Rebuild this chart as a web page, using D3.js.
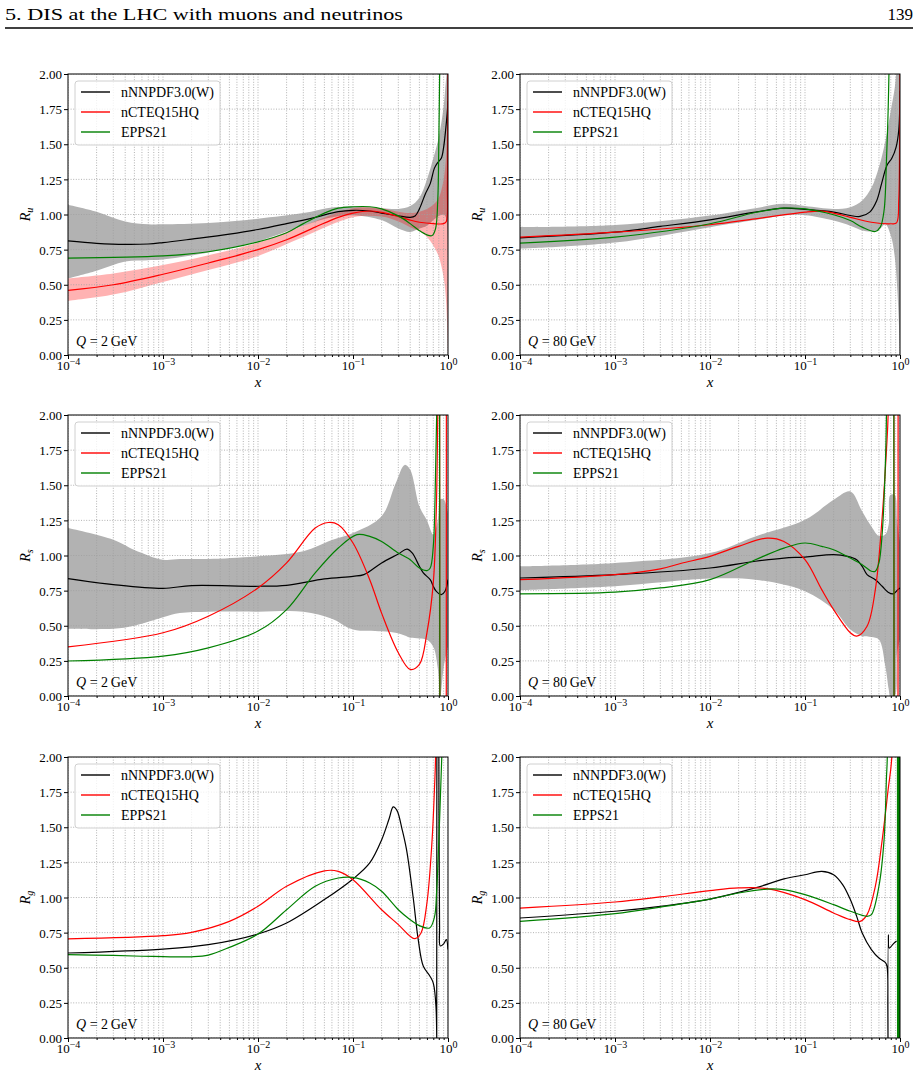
<!DOCTYPE html>
<html>
<head>
<meta charset="utf-8">
<script src="https://cdn.jsdelivr.net/npm/d3@7"></script>
<style>
body { margin: 0; background: #fff; }
svg { font-family: "Liberation Serif", "DejaVu Serif", serif; }
</style>
</head>
<body>
<svg id="fig" width="920" height="1077"></svg>
<script>
// legend + axis setup
var seriesNames = ["nNNPDF3.0(W)", "nCTEQ15HQ", "EPPS21"];
var seriesColors = ["black", "red", "green"];
var xMajor = [1e-4, 1e-3, 1e-2, 1e-1, 1];
var xExponents = ["\u22124", "\u22123", "\u22122", "\u22121", "0"];
var yTickVals = [0, 0.25, 0.5, 0.75, 1, 1.25, 1.5, 1.75, 2];

// ---- R_u, Q = 2 GeV ----
var uQ2_nnpdf = [[1e-4,0.812],[2e-4,0.795],[4e-4,0.787],[7e-4,0.79],[1e-3,0.8],[2e-3,0.825],[5e-3,0.86],[1e-2,0.893],[2e-2,0.935],[4e-2,0.98],[7e-2,1.02],[0.1,1.03],[0.15,1.025],[0.2,1.01],[0.3,0.99],[0.4,0.98],[0.45,0.99],[0.5,1.04],[0.58,1.15],[0.65,1.22],[0.72,1.33],[0.78,1.37],[0.85,1.4],[0.9,1.48],[0.95,1.62],[0.98,1.72],[1.0,1.81]];
var uQ2_nnpdfBand = [[1e-4,0.545,1.07],[2e-4,0.6,1.02],[4e-4,0.665,0.95],[7e-4,0.675,0.93],[1e-3,0.68,0.93],[3e-3,0.73,0.94],[1e-2,0.81,0.97],[3e-2,0.92,1.01],[6e-2,0.98,1.05],[0.1,0.995,1.055],[0.2,0.96,1.045],[0.3,0.9,1.04],[0.4,0.875,1.06],[0.5,0.9,1.12],[0.6,0.92,1.25],[0.7,0.96,1.4],[0.8,0.99,1.55],[0.9,1.0,1.77],[0.95,0.98,1.95],[1.0,0.6,2.1]];
var uQ2_ncteq = [[1e-4,0.46],[3e-4,0.5],[1e-3,0.575],[3e-3,0.655],[1e-2,0.75],[2e-2,0.82],[4e-2,0.91],[7e-2,0.98],[0.1,1.01],[0.15,1.025],[0.2,1.015],[0.3,0.985],[0.4,0.96],[0.5,0.945],[0.7,0.935],[0.9,0.935],[0.96,0.95],[0.985,1.2],[0.995,1.7],[1.0,2.1]];
var uQ2_ncteqBand = [[1e-4,0.385,0.545],[3e-4,0.43,0.58],[1e-3,0.52,0.64],[3e-3,0.605,0.71],[1e-2,0.705,0.8],[3e-2,0.84,0.92],[0.1,0.98,1.045],[0.2,0.985,1.045],[0.3,0.95,1.02],[0.4,0.91,1.01],[0.5,0.88,1.02],[0.6,0.84,1.04],[0.7,0.78,1.07],[0.8,0.7,1.12],[0.9,0.55,1.25],[0.95,0.4,1.4],[0.98,0.2,1.7],[1.0,0,2.1]];
var uQ2_epps = [[1e-4,0.689],[1e-3,0.705],[3e-3,0.735],[1e-2,0.805],[2e-2,0.87],[3e-2,0.935],[5e-2,1.01],[7e-2,1.045],[0.1,1.055],[0.15,1.055],[0.2,1.04],[0.3,0.99],[0.4,0.935],[0.5,0.885],[0.6,0.855],[0.68,0.85],[0.74,0.9],[0.78,1.1],[0.8,1.5],[0.82,2.1]];

// ---- R_u, Q = 80 GeV ----
var uQ80_nnpdf = [[1e-4,0.834],[1e-3,0.874],[3e-3,0.915],[1e-2,0.962],[3e-2,1.017],[6e-2,1.045],[0.1,1.036],[0.2,1.017],[0.3,0.993],[0.38,0.986],[0.48,1.017],[0.57,1.1],[0.64,1.22],[0.73,1.35],[0.82,1.4],[0.91,1.48],[0.97,1.6],[1.0,1.88]];
var uQ80_nnpdfBand = [[1e-4,0.756,0.91],[1e-3,0.8,0.925],[1e-2,0.91,0.993],[3e-2,0.96,1.045],[6e-2,0.993,1.076],[0.1,0.995,1.06],[0.2,0.957,1.04],[0.3,0.92,1.052],[0.4,0.886,1.1],[0.5,0.88,1.19],[0.6,0.89,1.336],[0.7,0.93,1.52],[0.8,0.85,1.74],[0.88,0.7,1.9],[0.93,0.5,2.05],[0.97,0.25,2.1],[1.0,0,2.1]];
var uQ80_ncteq = [[1e-4,0.839],[1e-3,0.874],[1e-2,0.927],[3e-2,0.969],[0.1,1.017],[0.15,1.024],[0.2,1.01],[0.3,0.98],[0.5,0.945],[0.8,0.934],[0.92,0.94],[0.97,1.1],[0.99,1.5],[1.0,2.1]];
var uQ80_epps = [[1e-4,0.796],[1e-3,0.839],[1e-2,0.934],[3e-2,1.014],[6e-2,1.045],[0.1,1.04],[0.2,0.998],[0.3,0.957],[0.4,0.91],[0.55,0.879],[0.62,0.91],[0.68,1.03],[0.72,1.38],[0.75,1.74],[0.77,2.1]];

// ---- R_s, Q = 2 GeV ----
var sQ2_nnpdf = [[1e-4,0.836],[3e-4,0.793],[1e-3,0.766],[2e-3,0.786],[1e-2,0.781],[2e-2,0.788],[5e-2,0.833],[0.1,0.852],[0.13,0.864],[0.2,0.947],[0.3,1.011],[0.37,1.046],[0.42,1.018],[0.5,0.923],[0.55,0.876],[0.65,0.828],[0.7,0.781],[0.75,0.746],[0.85,0.722],[0.93,0.746],[1.0,0.828]];
var sQ2_nnpdfBand = [[1e-4,0.478,1.195],[3e-4,0.478,1.112],[5e-4,0.5,1.04],[1e-3,0.56,0.97],[1.5e-3,0.59,0.975],[3e-3,0.6,0.975],[1e-2,0.6,0.994],[3e-2,0.6,1.03],[6e-2,0.55,1.11],[0.1,0.473,1.16],[0.2,0.46,1.28],[0.28,0.45,1.51],[0.35,0.43,1.645],[0.4,0.414,1.61],[0.5,0.41,1.35],[0.6,0.4,1.25],[0.7,0.35,1.15],[0.78,0.2,1.25],[0.83,0.0,1.4],[0.9,0.2,1.4],[1.0,0.35,1.3]];
var sQ2_ncteq = [[1e-4,0.35],[1e-3,0.45],[3e-3,0.568],[1e-2,0.769],[2e-2,0.947],[4e-2,1.195],[5.5e-2,1.235],[7e-2,1.219],[0.1,1.089],[0.15,0.828],[0.2,0.59],[0.3,0.308],[0.4,0.189],[0.5,0.225],[0.6,0.45],[0.7,0.805],[0.75,1.28],[0.78,2.0],[0.79,3.0],[0.8,null],[0.815,3],[0.82,-1],[0.9,null],[0.958,-1],[0.962,3]];
var sQ2_epps = [[1e-4,0.249],[1e-3,0.284],[3e-3,0.343],[1e-2,0.462],[2e-2,0.615],[4e-2,0.876],[7e-2,1.053],[0.11,1.148],[0.15,1.136],[0.2,1.1],[0.3,1.018],[0.4,0.97],[0.5,0.911],[0.6,0.892],[0.65,0.911],[0.7,1.065],[0.73,1.396],[0.76,2.0],[0.77,3.0],[0.8,null],[0.814,3],[0.824,-1]];

// ---- R_s, Q = 80 GeV ----
var sQ80_nnpdf = [[1e-4,0.84],[1e-3,0.864],[1e-2,0.911],[3e-2,0.959],[6e-2,0.982],[0.1,0.989],[0.2,1.006],[0.28,0.994],[0.35,0.97],[0.4,0.923],[0.45,0.864],[0.55,0.828],[0.65,0.781],[0.75,0.739],[0.85,0.727],[0.95,0.757],[1.0,0.769]];
var sQ80_nnpdfBand = [[1e-4,0.753,0.923],[1e-3,0.781,0.947],[1e-2,0.836,1.018],[3e-2,0.828,1.136],[0.1,0.746,1.254],[0.2,0.615,1.396],[0.3,0.473,1.456],[0.4,0.426,1.314],[0.5,0.42,1.207],[0.6,0.402,1.14],[0.7,0.213,1.15],[0.76,0.05,1.22],[0.79,0.0,1.43],[0.88,0.0,1.43],[0.93,0.3,1.25],[1.0,0.4,1.1]];
var sQ80_ncteq = [[1e-4,0.828],[1e-3,0.864],[3e-3,0.905],[5e-3,0.945],[1e-2,0.994],[2e-2,1.065],[4e-2,1.124],[6e-2,1.1],[0.1,0.97],[0.15,0.757],[0.2,0.615],[0.3,0.45],[0.35,0.426],[0.45,0.497],[0.55,0.757],[0.65,1.278],[0.72,1.751],[0.75,2.0],[0.76,3],[0.8,null],[0.862,3],[0.868,-1],[0.9,null],[0.952,-1],[0.956,3]];
var sQ80_epps = [[1e-4,0.727],[1e-3,0.739],[3e-3,0.769],[1e-2,0.828],[3e-2,0.97],[6e-2,1.053],[0.1,1.089],[0.15,1.065],[0.2,1.041],[0.3,0.982],[0.4,0.935],[0.5,0.888],[0.55,0.888],[0.6,0.947],[0.65,1.16],[0.7,1.633],[0.72,2.0],[0.73,3],[0.8,null],[0.86,3],[0.866,-1]];

// ---- R_g, Q = 2 GeV ----
var gQ2_nnpdf = [[1e-4,0.605],[1e-3,0.633],[3e-3,0.664],[1e-2,0.74],[2e-2,0.818],[5e-2,0.985],[0.1,1.132],[0.15,1.246],[0.2,1.41],[0.24,1.56],[0.265,1.645],[0.29,1.62],[0.33,1.48],[0.366,1.34],[0.43,1.0],[0.486,0.7],[0.55,0.51],[0.646,0.44],[0.7,0.39],[0.747,0.225],[0.757,-0.5],[0.758,null],[0.76,-0.5],[0.764,2.5],[0.78,null],[0.8,2.5],[0.815,0.8],[0.83,0.655],[0.9,0.67],[0.96,0.7],[1.0,0.63]];
var gQ2_ncteq = [[1e-4,0.705],[1e-3,0.728],[2e-3,0.752],[5e-3,0.83],[1e-2,0.937],[2e-2,1.08],[5e-2,1.19],[7e-2,1.186],[0.1,1.127],[0.2,0.913],[0.3,0.807],[0.4,0.724],[0.45,0.707],[0.52,0.747],[0.6,0.961],[0.68,1.41],[0.72,1.77],[0.74,2.0],[0.75,3]];
var gQ2_epps = [[1e-4,0.593],[3e-4,0.588],[6e-4,0.582],[1e-3,0.579],[2e-3,0.578],[3e-3,0.59],[5e-3,0.645],[1e-2,0.74],[2e-2,0.913],[4e-2,1.08],[7e-2,1.139],[0.1,1.143],[0.15,1.103],[0.2,1.044],[0.3,0.913],[0.4,0.842],[0.5,0.8],[0.64,0.783],[0.72,0.86],[0.76,1.05],[0.8,1.4],[0.84,1.8],[0.87,2.1]];

// ---- R_g, Q = 80 GeV ----
var gQ80_nnpdf = [[1e-4,0.854],[1e-3,0.902],[3e-3,0.937],[1e-2,0.989],[3e-2,1.068],[6e-2,1.132],[0.1,1.162],[0.15,1.186],[0.2,1.162],[0.25,1.09],[0.3,0.985],[0.35,0.866],[0.4,0.747],[0.5,0.629],[0.6,0.569],[0.7,0.538],[0.73,0.51],[0.745,0.2],[0.75,-0.5],[0.751,null],[0.752,-0.5],[0.755,0.735],[0.77,0.64],[0.85,0.67],[0.92,0.69]];
var gQ80_ncteq = [[1e-4,0.925],[1e-3,0.968],[3e-3,1.004],[1e-2,1.049],[2e-2,1.068],[4e-2,1.063],[0.1,0.985],[0.2,0.89],[0.3,0.842],[0.38,0.83],[0.45,0.878],[0.55,1.08],[0.65,1.412],[0.75,1.768],[0.82,2.0],[0.83,3]];
var gQ80_epps = [[1e-4,0.83],[1e-3,0.885],[3e-3,0.932],[1e-2,0.989],[2e-2,1.032],[4e-2,1.06],[6e-2,1.056],[0.1,1.02],[0.2,0.949],[0.3,0.902],[0.45,0.866],[0.5,0.878],[0.6,1.08],[0.68,1.412],[0.72,1.85],[0.735,2.0],[0.74,3],[0.9,null],[0.94,3],[0.945,-1],[0.95,3],[0.955,-1],[0.96,3],[0.965,-1],[0.97,3],[0.975,-1],[0.98,3],[0.985,-1],[0.99,3],[0.995,-1],[1.0,3]];

var panels = [
  {col: 0, row: 0, sub: "u", q: "2", bands: [[uQ2_nnpdfBand, "gray"], [uQ2_ncteqBand, "red"]], lines: [uQ2_nnpdf, uQ2_ncteq, uQ2_epps]},
  {col: 1, row: 0, sub: "u", q: "80", bands: [[uQ80_nnpdfBand, "gray"]], lines: [uQ80_nnpdf, uQ80_ncteq, uQ80_epps]},
  {col: 0, row: 1, sub: "s", q: "2", bands: [[sQ2_nnpdfBand, "gray"]], lines: [sQ2_nnpdf, sQ2_ncteq, sQ2_epps]},
  {col: 1, row: 1, sub: "s", q: "80", bands: [[sQ80_nnpdfBand, "gray"]], lines: [sQ80_nnpdf, sQ80_ncteq, sQ80_epps]},
  {col: 0, row: 2, sub: "g", q: "2", bands: [], lines: [gQ2_nnpdf, gQ2_ncteq, gQ2_epps]},
  {col: 1, row: 2, sub: "g", q: "80", bands: [], lines: [gQ80_nnpdf, gQ80_ncteq, gQ80_epps]}
];

var colLeft = [68, 520], rowTop = [74, 415, 757];
var W = 380, H = 281;

var svg = d3.select("#fig");

// page header
svg.append("text").attr("x", 5).attr("y", 20).attr("font-size", 17)
    .attr("textLength", 398).attr("lengthAdjust", "spacingAndGlyphs")
    .text("5. DIS at the LHC with muons and neutrinos");
svg.append("text").attr("x", 913).attr("y", 20).attr("font-size", 17)
    .attr("text-anchor", "end").text("139");
svg.append("line").attr("x1", 5).attr("x2", 913).attr("y1", 28).attr("y2", 28)
    .attr("stroke", "black").attr("stroke-width", 1.3);

panels.forEach(function (p, i) {
    var g = svg.append("g")
        .attr("transform", "translate(" + colLeft[p.col] + "," + rowTop[p.row] + ")");

    var x = d3.scaleLog().domain([1e-4, 1]).range([0, W]);
    var y = d3.scaleLinear().domain([0, 2]).range([H, 0]);

    g.append("clipPath").attr("id", "clip" + i)
        .append("rect").attr("width", W).attr("height", H);

    var plot = g.append("g").attr("clip-path", "url(#clip" + i + ")");

    var area = d3.area()
        .x(function (d) { return x(d[0]); })
        .y0(function (d) { return y(d[1]); })
        .y1(function (d) { return y(d[2]); })
        .curve(d3.curveCatmullRom.alpha(0.5));

    p.bands.forEach(function (b) {
        plot.append("path").attr("d", area(b[0]))
            .attr("fill", b[1] == "gray" ? "#b2b2b2" : "red")
            .attr("fill-opacity", b[1] == "gray" ? 1 : 0.3)
            .attr("stroke", "none");
    });

    // grid (minor + major)
    plot.selectAll("line.gx").data(x.ticks()).enter().append("line")
        .attr("x1", function (d) { return x(d); })
        .attr("x2", function (d) { return x(d); })
        .attr("y1", 0).attr("y2", H)
        .attr("stroke", "#a0a0a0").attr("stroke-width", 0.8)
        .attr("stroke-dasharray", "1,1.6");
    plot.selectAll("line.gy").data(yTickVals).enter().append("line")
        .attr("x1", 0).attr("x2", W)
        .attr("y1", function (d) { return y(d); })
        .attr("y2", function (d) { return y(d); })
        .attr("stroke", "#a0a0a0").attr("stroke-width", 0.8)
        .attr("stroke-dasharray", "1,1.6");

    var line = d3.line()
        .defined(function (d) { return d[1] !== null; })
        .x(function (d) { return x(d[0]); })
        .y(function (d) { return y(d[1]); })
        .curve(d3.curveCatmullRom.alpha(0.5));

    p.lines.forEach(function (l, k) {
        plot.append("path").attr("d", line(l))
            .attr("fill", "none")
            .attr("stroke", seriesColors[k])
            .attr("stroke-width", 1.2);
    });

    // axes
    var minors = x.ticks().filter(function (d) { return xMajor.indexOf(d) < 0; });
    g.append("g").attr("transform", "translate(0," + H + ")")
        .call(d3.axisBottom(x).tickValues(minors).tickSize(2).tickFormat("").tickSizeOuter(0))
        .call(function (a) { a.select(".domain").remove(); });
    var xa = g.append("g").attr("transform", "translate(0," + H + ")")
        .call(d3.axisBottom(x).tickValues(xMajor).tickSize(4).tickFormat("").tickSizeOuter(0));
    xa.select(".domain").remove();
    xa.selectAll(".tick").append("text")
        .attr("y", 15).attr("text-anchor", "middle").attr("fill", "black")
        .attr("font-family", "Liberation Serif").attr("font-size", 13)
        .each(function (d, j) {
            var t = d3.select(this);
            t.append("tspan").text("10");
            t.append("tspan").attr("dy", -5).attr("font-size", 10).text(xExponents[j]);
        });

    var ya = g.append("g")
        .call(d3.axisLeft(y).tickValues(yTickVals).tickSize(4).tickSizeOuter(0)
            .tickFormat(d3.format(".2f")));
    ya.select(".domain").remove();
    ya.selectAll("text").attr("font-family", "Liberation Serif").attr("font-size", 13)
        .attr("fill", "black").attr("dy", "0.36em").attr("x", -6);

    g.append("rect").attr("width", W).attr("height", H)
        .attr("fill", "none").attr("stroke", "black").attr("stroke-width", 1);

    // axis labels
    var yl = g.append("text")
        .attr("transform", "translate(-38," + (H / 2) + ") rotate(-90)")
        .attr("text-anchor", "middle").attr("font-size", 14);
    yl.append("tspan").attr("font-style", "italic").text("R");
    yl.append("tspan").attr("font-style", "italic").attr("font-size", 10).attr("dy", 3).text(p.sub);

    g.append("text").attr("x", W / 2).attr("y", H + 32)
        .attr("text-anchor", "middle").attr("font-size", 15)
        .attr("font-style", "italic").text("x");

    // Q annotation
    var qa = g.append("text").attr("x", 8).attr("y", H - 9).attr("font-size", 14);
    qa.append("tspan").attr("font-style", "italic").text("Q");
    qa.append("tspan").text(" = " + p.q + "\u2009GeV");

    // legend
    var lg = g.append("g").attr("transform", "translate(7,7)");
    lg.append("rect").attr("width", 145).attr("height", 64).attr("rx", 3)
        .attr("fill", "white").attr("fill-opacity", 0.8)
        .attr("stroke", "#d0d0d0").attr("stroke-width", 1);
    seriesNames.forEach(function (nm, k) {
        var yy = 11 + k * 20;
        lg.append("line").attr("x1", 6).attr("x2", 35).attr("y1", yy).attr("y2", yy)
            .attr("stroke", seriesColors[k]).attr("stroke-width", 1.4);
        lg.append("text").attr("x", 46).attr("y", yy).attr("dy", "0.35em")
            .attr("font-size", 14).text(nm);
    });
});
</script>
</body>
</html>
